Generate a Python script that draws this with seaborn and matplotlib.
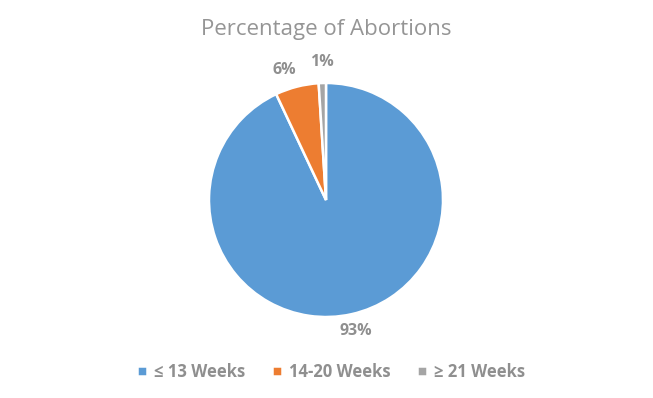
import matplotlib
matplotlib.use("Agg")
import matplotlib.pyplot as plt
import seaborn as sns

categories = ["≤ 13 Weeks", "14-20 Weeks", "≥ 21 Weeks"]
shares = [93, 6, 1]
colors = ["#5B9BD5", "#ED7D31", "#A5A5A5"]

sns.set_theme(style="white")
plt.rcParams["font.family"] = ["Open Sans", "DejaVu Sans"]

W, H = 653, 398
fig = plt.figure(figsize=(W / 100, H / 100), dpi=100)
fig.patch.set_facecolor("white")

# pie centered at (326, 200) px, radius ~117 px
r_px = 117
half = 1.5 * r_px
ax = fig.add_axes([(326 - half) / W, (H - 200 - half) / H, 2 * half / W, 2 * half / H])
wedges, texts, autotexts = ax.pie(
    shares, colors=colors, startangle=90, counterclock=False,
    autopct="%d%%", pctdistance=1.15, radius=1,
    wedgeprops=dict(edgecolor="white", linewidth=1.8),
    textprops=dict(color="#8F8F8F", fontsize=11.5, fontweight="bold"),
)
# nudge the small-slice labels like the original
autotexts[1].set_x(autotexts[1].get_position()[0] - 0.07)
autotexts[2].set_y(autotexts[2].get_position()[1] + 0.03)
ax.set_xlim(-1.5, 1.5)
ax.set_ylim(-1.5, 1.5)
ax.set_aspect("equal")
ax.axis("off")

fig.text(326 / W, 1 - 30 / H, "Percentage of Abortions", ha="center", va="center",
         fontsize=16, color="#959595")

fig.legend(wedges, categories, loc="center", bbox_to_anchor=(331 / W, 1 - 372 / H),
           ncol=3, frameon=False, handlelength=0.6, handleheight=0.6,
           handletextpad=0.4, columnspacing=1.6,
           prop=dict(size=12, weight="bold"), labelcolor="#8F8F8F")

fig.savefig("out.png", dpi=100, facecolor="white")
